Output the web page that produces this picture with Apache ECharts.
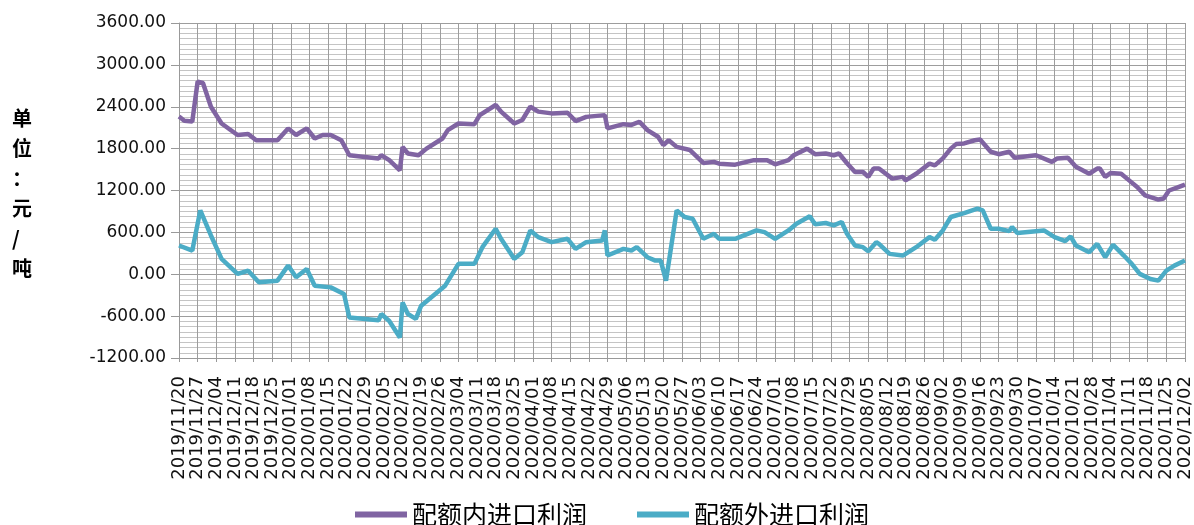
<!DOCTYPE html>
<html>
<head>
<meta charset="utf-8">
<script src="https://cdn.jsdelivr.net/npm/echarts@6/dist/echarts.min.js"></script>
<style>
  html, body { margin: 0; padding: 0; background: #fff; }
  #profit-wrapper { width: 1194px; height: 525px; }
</style>
</head>
<body>
<div id="profit-wrapper"></div>
<script>
// weekly tick labels, one per 7 days starting 2019/11/20
const tickLabels = [
  '2019/11/20', '2019/11/27', '2019/12/04', '2019/12/11', '2019/12/18', '2019/12/25',
  '2020/01/01', '2020/01/08', '2020/01/15', '2020/01/22', '2020/01/29',
  '2020/02/05', '2020/02/12', '2020/02/19', '2020/02/26',
  '2020/03/04', '2020/03/11', '2020/03/18', '2020/03/25',
  '2020/04/01', '2020/04/08', '2020/04/15', '2020/04/22', '2020/04/29',
  '2020/05/06', '2020/05/13', '2020/05/20', '2020/05/27',
  '2020/06/03', '2020/06/10', '2020/06/17', '2020/06/24',
  '2020/07/01', '2020/07/08', '2020/07/15', '2020/07/22', '2020/07/29',
  '2020/08/05', '2020/08/12', '2020/08/19', '2020/08/26',
  '2020/09/02', '2020/09/09', '2020/09/16', '2020/09/23', '2020/09/30',
  '2020/10/07', '2020/10/14', '2020/10/21', '2020/10/28',
  '2020/11/04', '2020/11/11', '2020/11/18', '2020/11/25', '2020/12/02'
];
const yTicks = [-1200, -600, 0, 600, 1200, 1800, 2400, 3000, 3600];

// 配额内进口利润: days since 2019/11/20 and values (元/吨)
const inQuotaDays = [0, 2, 5, 7, 9, 12, 16, 22, 26, 29, 37, 41, 44, 48, 51, 54, 57, 61, 64, 69,
  75, 76, 79, 83, 84, 86, 90, 93, 99, 101, 105, 111, 113, 119, 121, 126, 129, 132, 135, 140,
  146, 149, 153, 160, 161, 167, 170, 173, 176, 180, 182, 184, 187, 192, 197, 201, 203, 209, 216, 221,
  224, 229, 231, 236, 239, 243, 246, 248, 251, 254, 257, 259, 261, 263, 268, 272, 273, 277, 282, 284,
  287, 290, 292, 295, 299, 301, 305, 308, 312, 314, 322, 328, 330, 334, 337, 342, 345, 346, 348, 350,
  354, 357, 360, 363, 368, 370, 372, 375, 378];
const inQuotaVals = [2260, 2200, 2190, 2760, 2740, 2400, 2160, 1995, 2010, 1920, 1920, 2090, 1995, 2090, 1945, 1995, 1995, 1920, 1705, 1685,
  1660, 1705, 1635, 1490, 1825, 1730, 1705, 1800, 1945, 2065, 2160, 2150, 2280, 2425, 2330, 2160, 2210, 2400, 2330, 2305,
  2315, 2195, 2255, 2280, 2090, 2150, 2140, 2185, 2065, 1970, 1850, 1920, 1825, 1780, 1595, 1610, 1585, 1570, 1635, 1635,
  1575, 1635, 1705, 1800, 1720, 1730, 1705, 1730, 1590, 1465, 1465, 1395, 1515, 1515, 1370, 1395, 1345, 1440, 1585, 1560,
  1660, 1800, 1865, 1875, 1920, 1930, 1755, 1720, 1755, 1670, 1705, 1610, 1660, 1670, 1540, 1440, 1515, 1515, 1395, 1450,
  1440, 1345, 1250, 1130, 1070, 1085, 1200, 1240, 1285];

// 配额外进口利润
const outQuotaDays = [0, 5, 8, 12, 16, 22, 26, 30, 37, 41, 44, 48, 51, 57, 62, 64, 75, 76, 79, 83,
  84, 86, 89, 91, 100, 105, 111, 114, 119, 121, 126, 129, 132, 135, 140, 146, 149, 153, 159, 160,
  161, 167, 170, 172, 176, 179, 181, 183, 187, 190, 193, 197, 201, 203, 209, 217, 220, 224, 229, 232,
  237, 239, 243, 246, 249, 251, 254, 257, 259, 262, 263, 267, 272, 277, 282, 284, 287, 290, 295, 300,
  302, 305, 308, 312, 313, 315, 325, 329, 333, 335, 337, 342, 345, 348, 351, 355, 358, 361, 365, 368,
  371, 374, 378];
const outQuotaVals = [412, 340, 915, 556, 220, 5, 50, -116, -92, 124, -44, 76, -164, -188, -283, -619, -660, -570, -670, -907,
  -404, -570, -640, -450, -164, 149, 149, 388, 652, 508, 220, 316, 628, 532, 460, 508, 364, 460, 484, 628,
  268, 364, 340, 388, 244, 196, 196, -91, 915, 820, 796, 508, 580, 508, 508, 628, 604, 508, 628, 724,
  830, 715, 734, 700, 748, 580, 412, 388, 330, 460, 436, 292, 268, 388, 532, 494, 628, 820, 877, 940,
  915, 652, 652, 618, 676, 590, 628, 532, 474, 542, 412, 316, 436, 244, 422, 268, 149, 5, -67, -91,
  52, 124, 196];

const pairUp = (days, vals) => days.map((d, i) => [d, vals[i]]);

var myChart = echarts.init(document.getElementById('profit-wrapper'));
var option = {
  animation: false,
  grid: { left: 179, right: 5, top: 23, bottom: 167 },
  graphic: [{
    type: 'text',
    left: 12,
    top: 103,
    style: {
      text: '单\n位\n：\n元\n/\n吨',
      font: 'bold 20px "Noto Sans CJK SC"',
      lineHeight: 30,
      fill: '#000',
      align: 'center'
    }
  }],
  legend: {
    left: 350,
    top: 497,
    icon: 'rect',
    itemWidth: 52,
    itemHeight: 6,
    itemGap: 50,
    textStyle: { fontFamily: 'Noto Sans CJK SC', fontSize: 25, color: '#000' },
    data: ['配额内进口利润', '配额外进口利润']
  },
  xAxis: {
    type: 'value',
    min: 0,
    max: (tickLabels.length - 1) * 7,
    interval: 7,
    axisLine: { onZero: false, lineStyle: { color: '#999' } },
    axisTick: { show: true, length: 4, lineStyle: { color: '#999' } },
    splitLine: { show: true, lineStyle: { color: '#9d9d9d', width: 1 } },
    axisLabel: {
      rotate: 90,
      margin: 18,
      interval: 0,
      hideOverlap: false,
      showMinLabel: true,
      showMaxLabel: true,
      fontFamily: 'DejaVu Sans',
      fontSize: 18,
      color: '#111',
      formatter: v => tickLabels[Math.round(v / 7)]
    }
  },
  yAxis: {
    type: 'value',
    min: yTicks[0],
    max: yTicks[yTicks.length - 1],
    interval: 600,
    axisLine: { show: true, lineStyle: { color: '#999' } },
    axisTick: { show: true, length: 8, lineStyle: { color: '#999' } },
    splitLine: { show: true, lineStyle: { color: '#9d9d9d', width: 1 } },
    minorTick: { show: false, splitNumber: 8 },
    minorSplitLine: { show: true, lineStyle: { color: '#c4c4c4', width: 1 } },
    axisLabel: {
      margin: 13,
      fontFamily: 'DejaVu Sans',
      fontSize: 17,
      color: '#111',
      formatter: v => v.toFixed(2)
    }
  },
  series: [
    {
      name: '配额内进口利润',
      type: 'line',
      symbol: 'none',
      color: '#8064a2',
      lineStyle: { width: 4.5, color: '#8064a2' },
      data: pairUp(inQuotaDays, inQuotaVals)
    },
    {
      name: '配额外进口利润',
      type: 'line',
      symbol: 'none',
      color: '#4bacc6',
      lineStyle: { width: 4.5, color: '#4bacc6' },
      data: pairUp(outQuotaDays, outQuotaVals)
    }
  ]
};
option && myChart.setOption(option);
</script>
</body>
</html>
